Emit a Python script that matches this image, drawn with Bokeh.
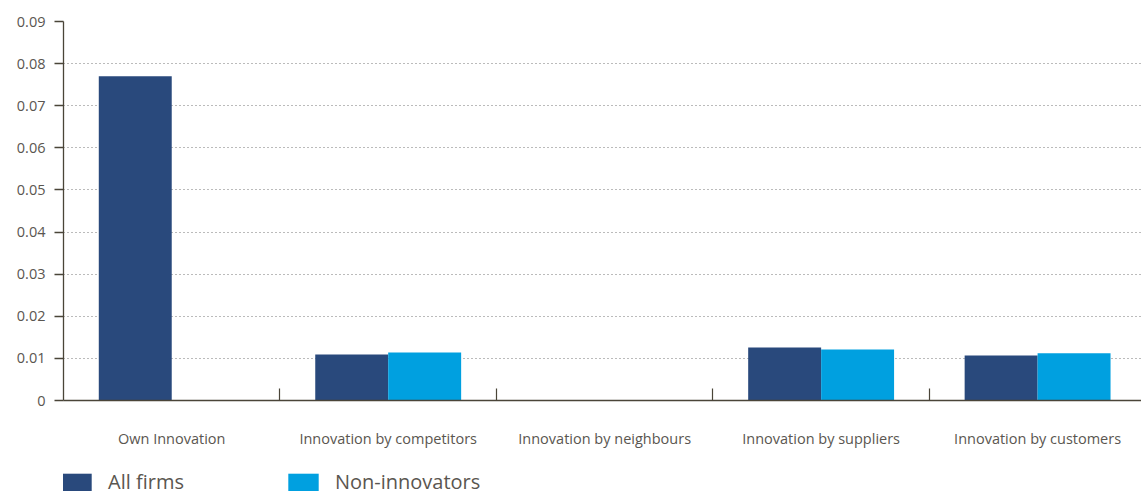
from bokeh.plotting import figure
from bokeh.layouts import column
from bokeh.models import FixedTicker, Range1d, Legend, LegendItem, ColumnDataSource
from bokeh.embed import file_html
from bokeh.resources import INLINE

categories = ["Own Innovation", "Innovation by competitors", "Innovation by neighbours",
              "Innovation by suppliers", "Innovation by customers"]
all_firms = [0.077, 0.0109, 0.0, 0.0126, 0.0107]
non_innovators = [0.0, 0.0114, 0.0, 0.0121, 0.0112]
series_names = ["All firms", "Non-innovators"]
y_ticks = [0, 0.01, 0.02, 0.03, 0.04, 0.05, 0.06, 0.07, 0.08, 0.09]
y_labels = ["0", "0.01", "0.02", "0.03", "0.04", "0.05", "0.06", "0.07", "0.08", "0.09"]

FONT = "Open Sans"
TXT = "#5a5650"
AX = "#4a4538"
C_ALL = "#29497c"
C_NON = "#00a0e0"

centers = [i + 0.5 for i in range(len(categories))]
bw = 0.337
src = ColumnDataSource(dict(
    xa=[c - bw / 2 for c in centers],
    xn=[c + bw / 2 for c in centers],
    a=all_firms, n=non_innovators))

p = figure(width=1141, height=463, output_backend="svg", toolbar_location=None,
           x_range=Range1d(0, 4.98), y_range=Range1d(0, 0.09),
           min_border_left=63, min_border_right=0, min_border_top=21, min_border_bottom=63)
p.outline_line_color = None
p.background_fill_color = "white"
p.border_fill_color = "white"

p.vbar(x="xa", top="a", width=bw, source=src, fill_color=C_ALL, line_color=None)
p.vbar(x="xn", top="n", width=bw, source=src, fill_color=C_NON, line_color=None)

# x axis
xa = p.xaxis[0]
xa.ticker = FixedTicker(ticks=centers, minor_ticks=[1, 2, 3, 4])
xa.major_label_overrides = {c: lab for c, lab in zip(centers, categories)}
xa.major_tick_in = 0
xa.major_tick_out = 0
xa.minor_tick_in = 12
xa.minor_tick_out = 0
xa.minor_tick_line_color = AX
xa.minor_tick_line_width = 1.2
xa.axis_line_color = AX
xa.axis_line_width = 1.3
xa.major_label_standoff = 28
xa.major_label_text_font = FONT
xa.major_label_text_font_size = "14.5px"
xa.major_label_text_color = TXT

# y axis
ya = p.yaxis[0]
ya.ticker = FixedTicker(ticks=y_ticks)
ya.major_label_overrides = {t: l for t, l in zip(y_ticks, y_labels)}
ya.major_tick_in = 0
ya.major_tick_out = 9
ya.minor_tick_line_color = None
ya.major_tick_line_color = AX
ya.major_tick_line_width = 1.3
ya.axis_line_color = AX
ya.axis_line_width = 1.3
ya.major_label_standoff = 9
ya.major_label_text_font = FONT
ya.major_label_text_font_size = "14.5px"
ya.major_label_text_color = TXT

p.xgrid.grid_line_color = None
p.ygrid.ticker = FixedTicker(ticks=y_ticks[1:])
p.ygrid.grid_line_color = "#777777"
p.ygrid.grid_line_dash = "1 3"
p.ygrid.grid_line_width = 1

# legend strip (same series, drawn out of its view; only the legend shows)
lg = figure(width=1141, height=28, output_backend="svg", toolbar_location=None,
            x_range=Range1d(0, 1), y_range=Range1d(1, 2),
            min_border_left=0, min_border_right=0, min_border_top=0, min_border_bottom=0)
lg.axis.visible = False
lg.grid.visible = False
lg.outline_line_color = None
r1 = lg.vbar(x="xa", top="a", width=bw, source=src, fill_color=C_ALL, line_color=None)
r2 = lg.vbar(x="xn", top="n", width=bw, source=src, fill_color=C_NON, line_color=None)
legend = Legend(items=[LegendItem(label=series_names[0], renderers=[r1]),
                       LegendItem(label=series_names[1], renderers=[r2])],
                orientation="horizontal", location=(-6, -4),
                glyph_width=38, glyph_height=22, label_standoff=13, spacing=100,
                padding=0, margin=0, border_line_color=None, background_fill_alpha=0,
                label_text_font=FONT, label_text_font_size="20px", label_text_color=TXT,
                label_height=22)
lg.add_layout(legend, "center")

layout = column(p, lg, spacing=0)
open("out.html", "w").write(file_html(layout, INLINE))
